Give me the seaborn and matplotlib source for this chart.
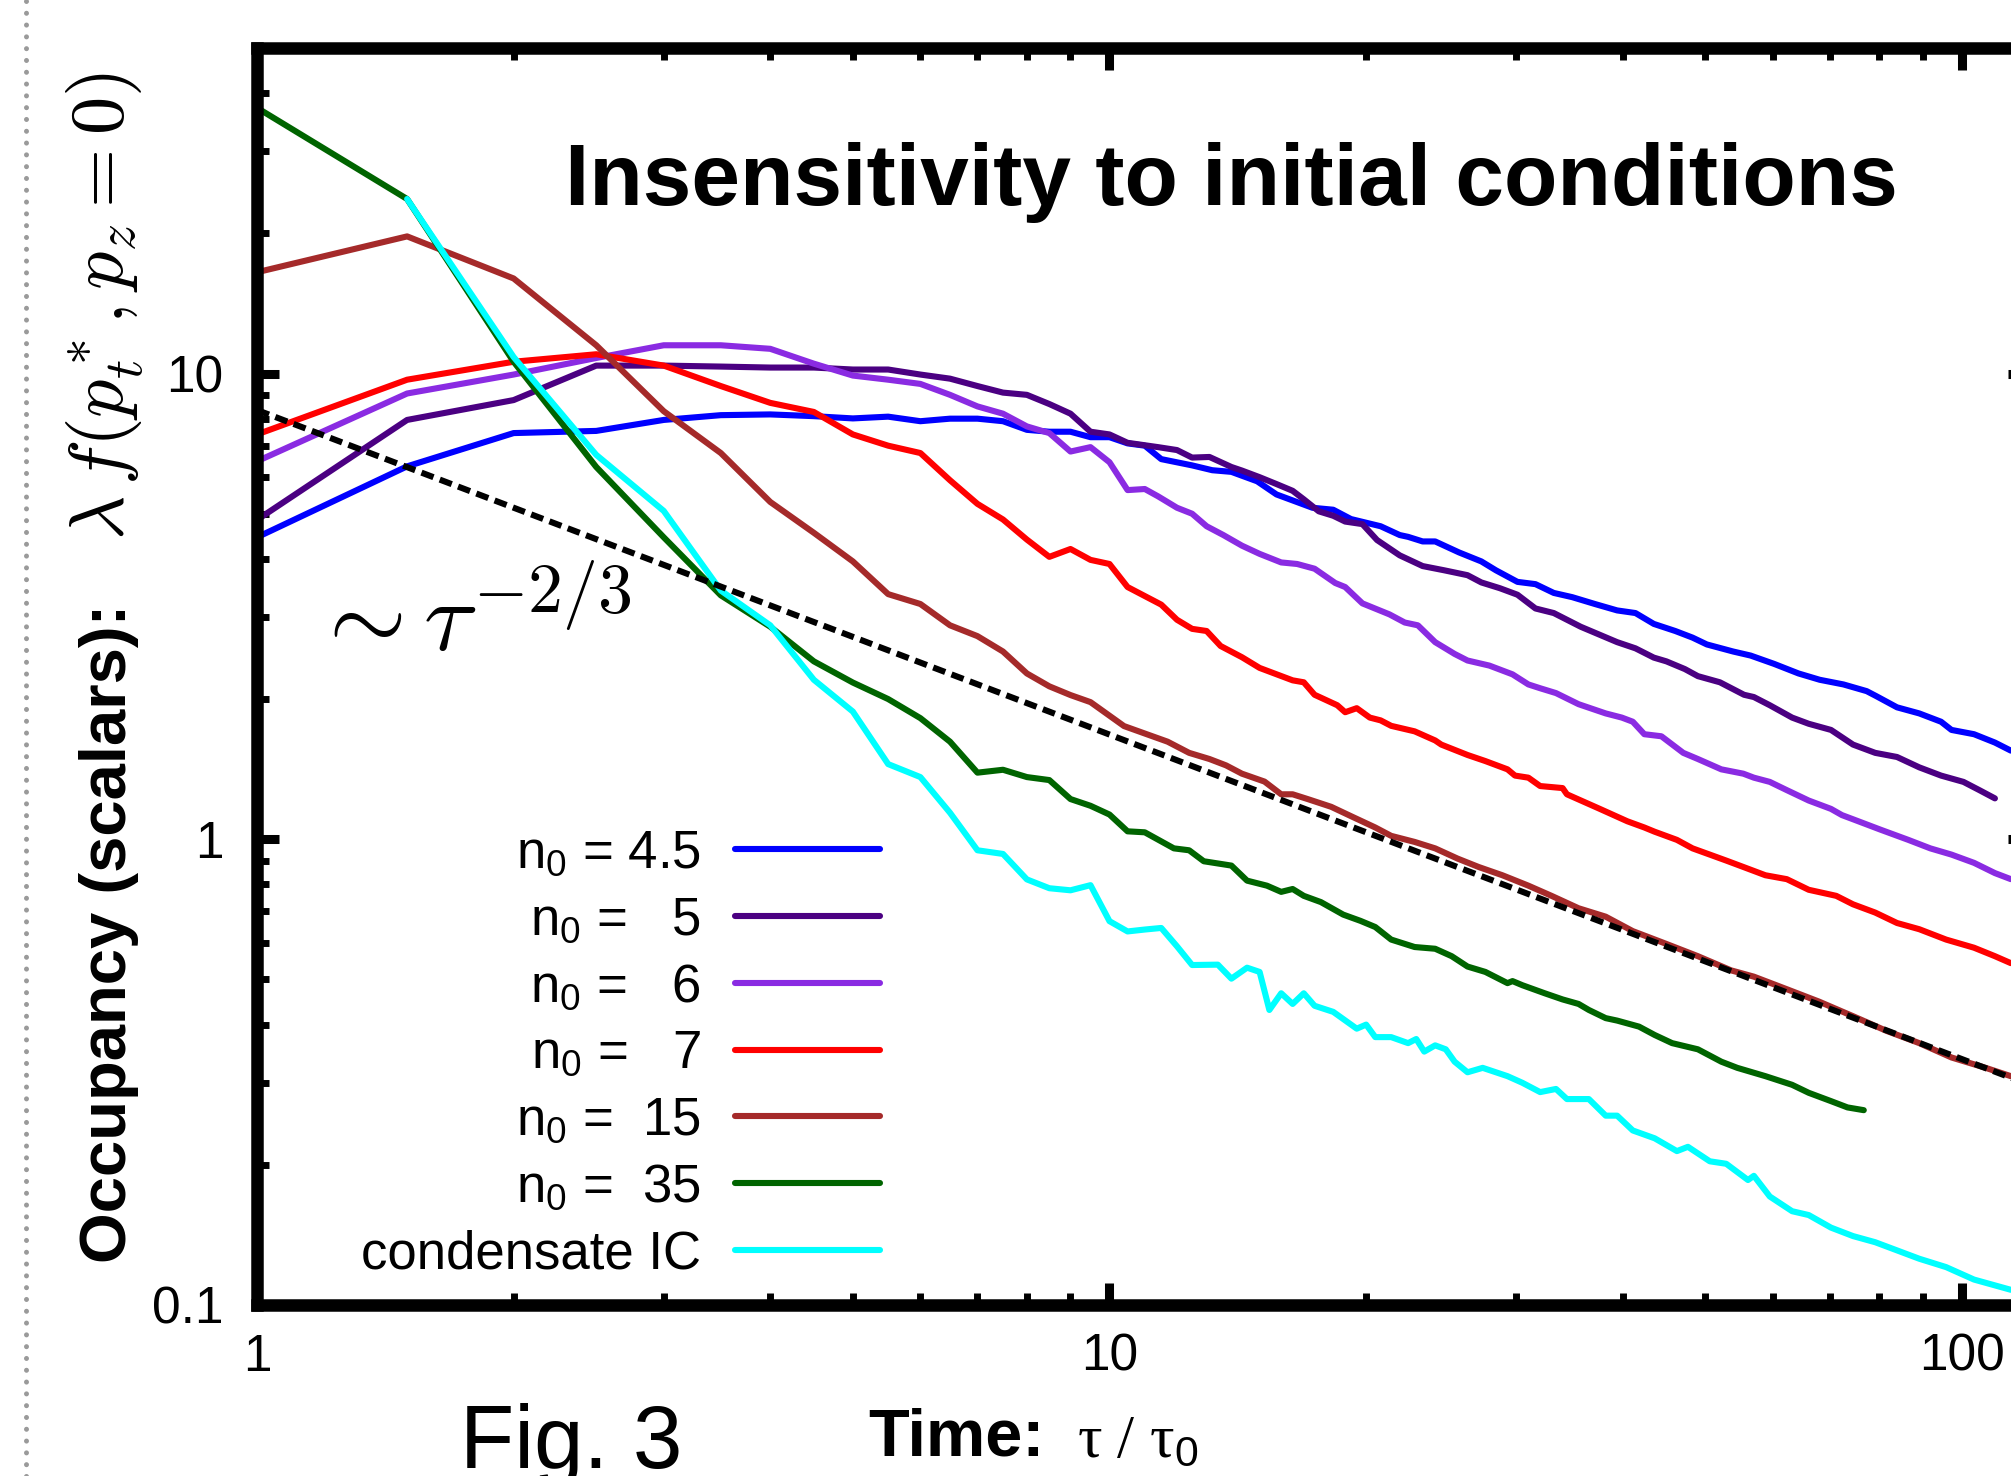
import numpy as np
import pandas as pd
import matplotlib
matplotlib.use("Agg")
import matplotlib.pyplot as plt
import seaborn as sns
from matplotlib.lines import Line2D
from matplotlib.ticker import FixedLocator, FixedFormatter, LogLocator, NullFormatter

# ---------------- data ----------------
t_blue = [1, 1.5, 2, 2.5, 3, 3.5, 4, 4.5, 5, 5.5, 6, 6.5, 7, 7.5, 8, 8.5, 9, 9.5, 10, 10.5,
          11, 11.5, 12.5, 13.2, 13.9, 14.9, 15.7, 17.3, 18.3, 19.2, 20.8, 21.9, 22.4, 23.3, 24.1,
          25.7, 27.3, 28.4, 30.1, 31.6, 33.2, 34.9, 37.1, 39.4, 41.4, 43.5, 46.1, 48.3, 50.2, 53.9,
          56.5, 60.2, 64.3, 68.1, 72.6, 77.3, 79.3, 83.9, 89.1, 94.5, 97.2, 103.3, 109.3, 114.1]
f_blue = [4.45, 6.32, 7.45, 7.53, 7.95, 8.14, 8.17, 8.1, 8.01, 8.08, 7.9, 8.0, 8.0, 7.9, 7.57, 7.5,
          7.5, 7.3, 7.3, 7.08, 7.0, 6.55, 6.35, 6.2, 6.15, 5.87, 5.5, 5.15, 5.1, 4.87, 4.7, 4.5, 4.46,
          4.36, 4.36, 4.13, 3.95, 3.78, 3.57, 3.53, 3.38, 3.31, 3.2, 3.10, 3.06, 2.90, 2.80, 2.71, 2.62,
          2.53, 2.48, 2.38, 2.27, 2.20, 2.15, 2.08, 2.03, 1.92, 1.863, 1.788, 1.717, 1.681, 1.613, 1.55]

t_indigo = [1, 1.5, 2, 2.5, 3, 3.5, 4, 4.5, 5, 5.5, 6, 6.5, 7, 7.5, 8, 8.5, 9, 9.5, 10, 10.5,
            11.4, 12, 12.5, 13.1, 13.9, 14.3, 15.0, 15.7, 16.4, 16.9, 17.6, 18.3, 18.9, 19.8, 20.6,
            21.9, 23.3, 24.7, 26.3, 27.3, 28.7, 30.1, 31.6, 33.2, 35.7, 39.4, 41.4, 43.5, 45.0, 47.3,
            49.0, 52.0, 55.5, 57.0, 59.5, 63.2, 66.1, 70.2, 74.5, 79.1, 83.9, 89.1, 94.5, 100.4,
            104.8, 109.3]
f_indigo = [4.85, 7.95, 8.77, 10.4, 10.4, 10.35, 10.3, 10.3, 10.2, 10.2, 9.95, 9.75, 9.4, 9.1, 9.0,
            8.6, 8.2, 7.5, 7.4, 7.1, 6.95, 6.85, 6.6, 6.62, 6.3, 6.19, 5.99, 5.79, 5.6, 5.37, 5.06,
            4.95, 4.81, 4.75, 4.39, 4.07, 3.86, 3.78, 3.69, 3.56, 3.46, 3.35, 3.13, 3.06, 2.86, 2.65,
            2.57, 2.455, 2.41, 2.32, 2.24, 2.173, 2.043, 2.02, 1.94, 1.825, 1.77, 1.717, 1.597, 1.533,
            1.502, 1.427, 1.37, 1.328, 1.275, 1.224]

t_violet = [1, 1.5, 2, 2.5, 3, 3.5, 4, 4.5, 5, 5.5, 6, 6.5, 7, 7.5, 8, 8.5, 9, 9.5, 10, 10.5,
            11, 11.4, 12, 12.5, 13, 13.6, 14.3, 15, 15.9, 16.6, 17.4, 18.4, 18.9, 19.8, 21.3, 22.2,
            23.0, 24.1, 25.4, 26.3, 27.9, 29.7, 31.0, 32.0, 33.4, 35.5, 38.2, 39.9, 41.1, 42.4, 44.4,
            47.1, 49.0, 52.2, 55.4, 57.0, 59.5, 62.3, 66.1, 70.2, 72.3, 74.5, 80.2, 86.5, 91.8, 97.2,
            103.3, 109.3, 114.1]
f_violet = [6.48, 9.06, 9.95, 10.8, 11.5, 11.5, 11.3, 10.5, 9.9, 9.7, 9.5, 9.0, 8.5, 8.2, 7.7, 7.45,
            6.8, 6.95, 6.45, 5.62, 5.65, 5.45, 5.15, 5.0, 4.7, 4.5, 4.27, 4.1, 3.93, 3.9, 3.81, 3.55,
            3.48, 3.21, 3.04, 2.92, 2.88, 2.65, 2.5, 2.42, 2.36, 2.26, 2.15, 2.11, 2.06, 1.95, 1.863,
            1.825, 1.788, 1.681, 1.664, 1.533, 1.487, 1.413, 1.383, 1.356, 1.328, 1.275, 1.211, 1.162,
            1.127, 1.104, 1.049, 0.997, 0.956, 0.927, 0.890, 0.846, 0.821]

t_red = [1, 1.5, 2, 2.5, 3, 3.5, 4, 4.5, 5, 5.5, 6, 6.5, 7, 7.5, 8, 8.5, 9, 9.5, 10, 10.5,
         11.5, 12, 12.5, 13, 13.5, 14.3, 15, 16.4, 16.9, 17.4, 18.5, 18.9, 19.5, 20.2, 20.8, 21.4,
         22.8, 24.1, 24.5, 26.3, 27.6, 29.3, 29.9, 31.0, 32.0, 34.0, 34.4, 37.6, 40.5, 42.4, 43.6,
         46.3, 48.3, 50.6, 52.9, 55.4, 58.8, 62.3, 66.1, 71.2, 74.5, 79.1, 83.9, 89.1, 95.8, 103.3,
         109.3, 114.1]
f_red = [7.4, 9.7, 10.6, 11.0, 10.4, 9.4, 8.65, 8.27, 7.4, 7.0, 6.75, 5.9, 5.25, 4.86, 4.4, 4.04,
         4.2, 3.98, 3.9, 3.48, 3.19, 2.96, 2.83, 2.8, 2.6, 2.46, 2.333, 2.194, 2.173, 2.043, 1.94,
         1.874, 1.912, 1.825, 1.80, 1.752, 1.705, 1.63, 1.597, 1.517, 1.472, 1.413, 1.37, 1.356,
         1.301, 1.288, 1.249, 1.162, 1.093, 1.06, 1.038, 0.997, 0.956, 0.927, 0.90, 0.872, 0.837,
         0.821, 0.779, 0.756, 0.725, 0.696, 0.661, 0.641, 0.609, 0.585, 0.561, 0.542]

t_brown = [1, 1.5, 2, 2.5, 3, 3.5, 4, 4.5, 5, 5.5, 6, 6.5, 7, 7.5, 8, 8.5, 9, 9.5, 10.4, 11.7,
           12.4, 13.1, 13.7, 14.3, 15.2, 15.9, 16.4, 17.1, 18.2, 19.3, 20.5, 21.4, 22.8, 24.1, 25.6,
           27.1, 28.9, 31.0, 33.0, 35.5, 38.2, 41.1, 44.9, 49.0, 53.6, 57.0, 62.3, 68.0, 74.5, 81.5,
           89.1, 97.2, 106.6, 114.1]
f_brown = [16.5, 19.7, 16.0, 11.5, 8.3, 6.75, 5.3, 4.55, 3.95, 3.36, 3.2, 2.88, 2.73, 2.53, 2.27,
           2.13, 2.04, 1.97, 1.75, 1.62, 1.533, 1.487, 1.441, 1.383, 1.33, 1.249, 1.249, 1.219, 1.174,
           1.116, 1.06, 1.017, 0.987, 0.956, 0.909, 0.872, 0.837, 0.795, 0.756, 0.711, 0.682, 0.635,
           0.597, 0.561, 0.523, 0.507, 0.4765, 0.448, 0.417, 0.388, 0.365, 0.34, 0.323, 0.310]

t_green = [1, 1.5, 2, 2.5, 3, 3.5, 4, 4.5, 5, 5.5, 6, 6.5, 7, 7.5, 8, 8.5, 9, 9.5, 10, 10.5,
           11, 11.9, 12.4, 12.9, 13.9, 14.5, 15.3, 15.9, 16.4, 16.9, 17.7, 18.8, 19.7, 20.5, 21.4,
           22.8, 24.1, 25.2, 26.3, 27.6, 29.3, 29.7, 30.5, 32.4, 34.0, 35.5, 36.5, 38.2, 39.4, 41.8,
           43.6, 45.7, 49.0, 52.2, 54.5, 58.8, 63.2, 66.1, 70.2, 73.4, 76.7]
f_green = [37.2, 23.7, 10.6, 6.3, 4.45, 3.34, 2.86, 2.41, 2.17, 2.0, 1.82, 1.62, 1.39, 1.41, 1.36,
           1.34, 1.22, 1.18, 1.13, 1.04, 1.035, 0.956, 0.947, 0.897, 0.878, 0.815, 0.795, 0.771,
           0.782, 0.756, 0.733, 0.689, 0.668, 0.648, 0.609, 0.587, 0.582, 0.561, 0.533, 0.519, 0.491,
           0.496, 0.486, 0.467, 0.453, 0.443, 0.430, 0.413, 0.408, 0.396, 0.380, 0.365, 0.354, 0.333,
           0.323, 0.310, 0.297, 0.2855, 0.274, 0.2656, 0.262]

t_cyan = [1.5, 2, 2.5, 3, 3.5, 4, 4.5, 5, 5.5, 6, 6.5, 7, 7.5, 8, 8.5, 9, 9.5, 10, 10.5, 11,
          11.5, 12, 12.5, 13.4, 13.9, 14.5, 15.0, 15.4, 15.9, 16.4, 16.9, 17.4, 18.3, 19.5, 20.0,
          20.5, 21.4, 22.4, 22.9, 23.4, 24.1, 24.8, 25.4, 26.3, 27.4, 29.3, 30.5, 32.0, 33.4, 34.4,
          36.5, 38.2, 39.4, 41.1, 43.6, 46.3, 47.7, 50.6, 52.9, 56.1, 57.0, 59.5, 63.2, 66.1, 70.2,
          74.5, 79.1, 83.9, 89.1, 95.8, 103.3, 114.1]
f_cyan = [23.7, 10.85, 6.69, 5.07, 3.42, 2.88, 2.2, 1.88, 1.45, 1.36, 1.14, 0.947, 0.93, 0.82,
          0.785, 0.777, 0.797, 0.667, 0.634, 0.64, 0.645, 0.589, 0.537, 0.538, 0.502, 0.530, 0.519,
          0.430, 0.467, 0.443, 0.467, 0.439, 0.426, 0.392, 0.400, 0.376, 0.376, 0.365, 0.3725, 0.350,
          0.361, 0.354, 0.333, 0.316, 0.323, 0.310, 0.300, 0.2865, 0.291, 0.2768, 0.2768, 0.255,
          0.255, 0.237, 0.228, 0.214, 0.2186, 0.2035, 0.201, 0.1855, 0.1894, 0.171, 0.159, 0.156,
          0.1466, 0.1406, 0.1364, 0.131, 0.1257, 0.1206, 0.1134, 0.1078]

# power-law guide line (two end points as drawn)
t_fit = [1, 120]
f_fit = [8.35, 0.297]

labels = ["n$_0$ = 4.5", "n$_0$ =   5", "n$_0$ =   6", "n$_0$ =   7",
          "n$_0$ =  15", "n$_0$ =  35", "condensate IC"]
colors = ["#0000ff", "#4b0082", "#8a2be2", "#ff0000", "#a52a2a", "#006400", "#00ffff"]

x_ticks = [1, 10, 100]
x_ticklabels = ["1", "10", "100"]
y_ticks = [0.1, 1, 10]
y_ticklabels = ["0.1", "1", "10"]

# ---------------- style ----------------
sns.set_style("ticks")
plt.rcParams['font.family'] = ['Liberation Sans', 'DejaVu Sans']
plt.rcParams['mathtext.fontset'] = 'custom'
plt.rcParams['mathtext.rm'] = 'Liberation Sans'
plt.rcParams['mathtext.it'] = 'Liberation Sans:italic'
plt.rcParams['mathtext.bf'] = 'Liberation Sans:bold'
for k in ['text.color', 'axes.labelcolor', 'xtick.color', 'ytick.color', 'axes.edgecolor']:
    plt.rcParams[k] = 'black'

W, H = 2011, 1476
fig = plt.figure(figsize=(W / 100, H / 100), dpi=100)
fig.patch.set_facecolor("white")

ax_left, ax_right, ax_top, ax_bot = 257, 2029.5, 48, 1305
ax = fig.add_axes([ax_left / W, 1 - ax_bot / H, (ax_right - ax_left) / W, (ax_bot - ax_top) / H])
ax.set_xscale("log")
ax.set_yscale("log")
ax.set_xlim(1, 120)
ax.set_ylim(0.1, 50)

LW = 4.4
series = [(t_blue, f_blue), (t_indigo, f_indigo), (t_violet, f_violet), (t_red, f_red),
          (t_brown, f_brown), (t_green, f_green), (t_cyan, f_cyan)]
handles = []
for (t, f), c, lab in zip(series, colors, labels):
    df = pd.DataFrame({"t": t, "f": f})
    sns.lineplot(data=df, x="t", y="f", color=c, lw=LW, estimator=None, sort=False,
                 ax=ax, legend=False)
    handles.append(ax.lines[-1])

df_fit = pd.DataFrame({"t": t_fit, "f": f_fit})
sns.lineplot(data=df_fit, x="t", y="f", color="black", lw=4.4, estimator=None, sort=False,
             ax=ax, legend=False, zorder=6)
ax.lines[-1].set_linestyle((0, (2.1, 1.1)))

ax.set_xlabel("")
ax.set_ylabel("")

# ticks
ax.xaxis.set_major_locator(FixedLocator(x_ticks))
ax.xaxis.set_major_formatter(FixedFormatter(x_ticklabels))
ax.yaxis.set_major_locator(FixedLocator(y_ticks))
ax.yaxis.set_major_formatter(FixedFormatter(y_ticklabels))
ax.xaxis.set_minor_locator(LogLocator(base=10, subs=np.arange(2, 10)))
ax.yaxis.set_minor_locator(LogLocator(base=10, subs=np.arange(2, 10)))
ax.xaxis.set_minor_formatter(NullFormatter())
ax.yaxis.set_minor_formatter(NullFormatter())
ax.tick_params(which="both", direction="in", top=True, right=True, color="black",
               labelcolor="black")
ax.tick_params(which="major", length=16, width=6.5)
ax.tick_params(which="minor", length=8.5, width=5)
ax.tick_params(axis="x", which="major", labelsize=37, pad=20)
ax.tick_params(axis="y", which="major", labelsize=37, pad=24)
for sp in ax.spines.values():
    sp.set_linewidth(9)
    sp.set_color("black")
    sp.set_visible(True)

leg = ax.legend(handles, labels, loc="center right", markerfirst=False, frameon=False,
                fontsize=38, handlelength=2.75, handletextpad=0.65, labelspacing=0.32,
                borderpad=0, borderaxespad=0, labelcolor="black",
                bbox_to_anchor=(880 / W, 1 - 1054 / H), bbox_transform=fig.transFigure)
for h in leg.legend_handles:
    h.set_linewidth(LW)

# texts
fig.text(1231 / W, 1 - 205 / H, "Insensitivity to initial conditions", fontsize=63,
         fontweight="bold", ha="center", va="baseline")
fig.text(311 / W, 1 - 651 / H, r"$\sim \tau^{-2/3}$", fontsize=72, ha="left", va="baseline",
         math_fontfamily="cm")
fig.text(126 / W, 1 - 1263 / H, "Occupancy (scalars):", rotation=90, rotation_mode="anchor",
         ha="left", va="baseline", fontsize=47, fontweight="bold")
fig.text(124 / W, 1 - 540 / H, r"$\lambda\, f(p_t^*, p_z = 0)$", rotation=90,
         rotation_mode="anchor", ha="left", va="baseline", fontsize=55, math_fontfamily="cm")
fig.text(868 / W, 1 - 1456 / H, "Time:", fontsize=48, fontweight="bold", ha="left",
         va="baseline")
fig.text(1077 / W, 1 - 1456 / H, "τ / τ$_0$", fontsize=44, ha="left", va="baseline",
         family=["Liberation Serif", "DejaVu Serif"])
fig.text(460 / W, 1 - 1468 / H, "Fig. 3", fontsize=64, ha="left", va="baseline")

fig.add_artist(Line2D([26 / W, 26 / W], [0, 1], transform=fig.transFigure, color="#9a9a9a",
                      lw=3.6, linestyle=(0, (0.01, 2.35)), dash_capstyle="round"))

fig.savefig("out.png", dpi=100, facecolor="white")
